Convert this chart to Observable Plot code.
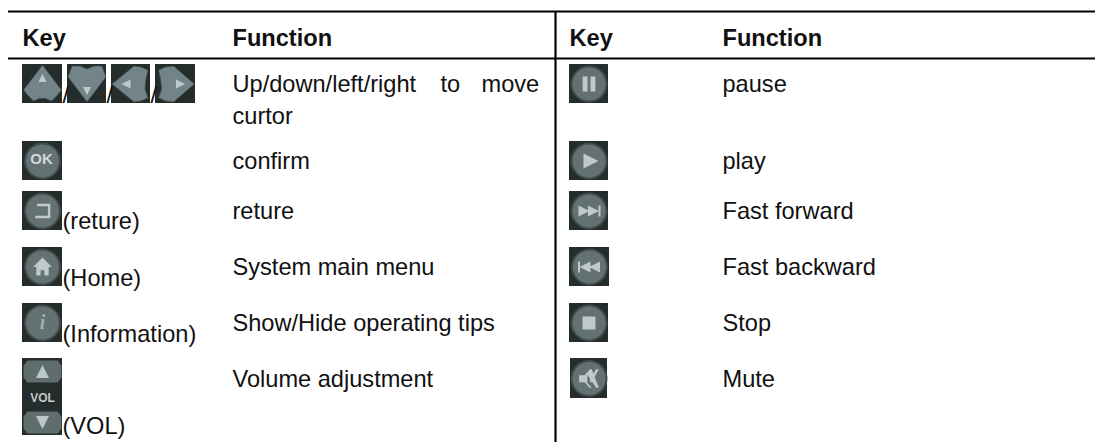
<!DOCTYPE html>
<html>
<head>
<meta charset="utf-8">
<script src="https://cdn.jsdelivr.net/npm/d3@7"></script>
<script src="https://cdn.jsdelivr.net/npm/@observablehq/plot@0.6"></script>
<style>html,body{margin:0;padding:0;background:#fff}svg{display:block}</style>
</head>
<body>
<div id="chart"></div>
<script>
// ---- table content ----
const headers = ["Key", "Function", "Key", "Function"];
const leftKeyLabels = ["(reture)", "(Home)", "(Information)", "(VOL)"];
const leftFunctions = ["curtor", "confirm", "reture", "System main menu", "Show/Hide operating tips", "Volume adjustment"];
const justifiedWords = ["Up/down/left/right", "to", "move"];
const rightFunctions = ["pause", "play", "Fast forward", "Fast backward", "Stop", "Mute"];
const leftIcons = ["up", "down", "left", "right", "ok", "return", "home", "info", "vol"];
const rightIcons = ["pause", "play", "forward", "backward", "stop", "mute"];

// ---- page layout (pixel grid of the table), kept apart from the content ----
const W = 1095, H = 442, FS = 23.6;
const headerX = [22, 232, 569, 722], headerBase = 45;
const leftFnBase = [123, 168, 218, 274, 330, 386];
const rightFnBase = [91, 168, 218, 274, 330, 386];
const leftLabelBase = [228, 285, 341, 433];
const wordX = [232, 440, 481];
const leftBoxes = [[22,64,62,103],[67,64,106,103],[111,64,150,103],[155,64,195,103],
  [22,141,62,180],[22,191,62,230],[22,247,62,286],[22,303,62,342],[22,358,62,435]];
const rightBoxes = [[569,64,608,103],[569,141,608,180],[569,191,608,230],[569,247,609,286],[569,303,608,342],[570,358,607,398]];
const slashX = [62, 106, 150];

// ---- icon glyphs as custom dot symbols (unit coordinates scaled by r) ----
const poly = pts => ({draw(ctx, size) {
  const r = Math.sqrt(size / Math.PI);
  pts.forEach(([x, y], i) => i ? ctx.lineTo(x * r, y * r) : ctx.moveTo(x * r, y * r));
  ctx.closePath();
}});
const polys = list => ({draw(ctx, size) { list.forEach(p => poly(p).draw(ctx, size)); }});
const tri = (cx, cy, dir, s) => dir === "up" ? [[cx, cy - s], [cx + s, cy + s], [cx - s, cy + s]]
  : dir === "down" ? [[cx, cy + s], [cx + s, cy - s], [cx - s, cy - s]]
  : dir === "left" ? [[cx - s, cy], [cx + s, cy - s], [cx + s, cy + s]]
  : [[cx + s, cy], [cx - s, cy - s], [cx - s, cy + s]];
const rectP = (a, b, c, d) => [[a, b], [c, b], [c, d], [a, d]];
const padUp = poly([[0,-.95],[.95,.3],[.75,.55],[.45,.85],[.15,.72],[-.15,.72],[-.45,.85],[-.75,.55],[-.95,.3]]);
const padDown = poly([[-.75,-.9],[-.35,-.9],[0,-.75],[.35,-.9],[.75,-.9],[.95,-.35],[0,.9],[-.95,-.35]]);
const padLeft = poly([[-.95,0],[.15,-.9],[.5,-.85],[.85,-.7],[.75,-.25],[.7,.25],[.85,.7],[.5,.85],[.15,.9]]);
const padRight = poly([[.95,0],[-.1,-.9],[-.5,-.85],[-.85,-.7],[-.75,-.25],[-.7,.25],[-.85,.7],[-.5,.85],[-.1,.9]]);
const pill = poly([[-.8,-.58],[.8,-.58],[1,-.3],[1,.3],[.8,.58],[-.8,.58],[-1,.3],[-1,-.3]]);
const glyphs = {
  up: {s: tri(0, 0, "up", 1), r: 4, dy: -6},
  down: {s: tri(0, 0, "down", 1), r: 4, dy: 7},
  left: {s: tri(0, 0, "left", 1), r: 4.5, dx: -5},
  right: {s: tri(0, 0, "right", 1), r: 4.5, dx: 5},
  play: {s: tri(0, 0, "right", 1), r: 7.5, dx: 2},
  pause: {s: [rectP(-.85,-1,-.2,1), rectP(.2,-1,.85,1)], r: 7.5},
  stop: {s: rectP(-1,-1,1,1), r: 6.5},
  forward: {s: [tri(-.5,0,"right",.55), tri(.45,0,"right",.55), rectP(.95,-.55,1.15,.55)], r: 10},
  backward: {s: [tri(.5,0,"left",.55), tri(-.45,0,"left",.55), rectP(-1.15,-.55,-.95,.55)], r: 10},
  home: {s: [[[0,-1],[1,0],[.65,0],[.65,.9],[.2,.9],[.2,.35],[-.2,.35],[-.2,.9],[-.65,.9],[-.65,0],[-1,0]]], r: 9.5},
  ret: {s: [[[-.6,.4],[.45,.4],[.45,-.4],[-.45,-.4],[-.45,-.6],[.65,-.6],[.65,.6],[-.6,.6]]], r: 12},
  mute: {s: [rectP(-.9,-.3,-.4,.35), [[-.4,-.3],[.1,-.85],[.25,-.85],[.9,.85],[.65,.85],[-.15,-.35],[-.15,.4],[.25,.85],[.05,.85],[-.4,.35]], [[.65,-.85],[.9,-.85],[.2,.4],[.05,.15]]], r: 11}
};

// ---- derived tables for marks ----
const boxRows = [...leftIcons.map((icon, i) => ({icon, b: leftBoxes[i]})), ...rightIcons.map((icon, i) => ({icon, b: rightBoxes[i]}))]
  .map(d => ({icon: d.icon, x1: d.b[0], y1: d.b[1], x2: d.b[2], y2: d.b[3], cx: (d.b[0] + d.b[2]) / 2, cy: (d.b[1] + d.b[3]) / 2}));
const pads = {up: padUp, down: padDown, left: padLeft, right: padRight};
const padRows = boxRows.filter(d => pads[d.icon]);
const roundRows = boxRows.filter(d => !pads[d.icon] && d.icon !== "vol");
const volRow = boxRows.find(d => d.icon === "vol");
const glyphName = {up:"up",down:"down",left:"left",right:"right",play:"play",pause:"pause",stop:"stop",forward:"forward",backward:"backward",home:"home",return:"ret",mute:"mute"};
const glyphRows = boxRows.filter(d => glyphName[d.icon]).map(d => {
  const g = glyphs[glyphName[d.icon]];
  const list = Array.isArray(g.s[0][0]) ? g.s : [g.s];
  return {x: d.cx + (g.dx || 0), y: d.cy + (g.dy || 0), r: g.r, sym: polys(list)};
});

const base = {fontFamily: "Liberation Sans, Arial, sans-serif", fontSize: FS, fill: "#111", textAnchor: "start", lineAnchor: "bottom"};
const bodyTexts = [
  ...leftFunctions.map((t, i) => ({t, x: headerX[1], y: leftFnBase[i]})),
  ...rightFunctions.map((t, i) => ({t, x: headerX[3], y: rightFnBase[i]})),
  ...justifiedWords.map((t, i) => ({t, x: wordX[i], y: 91})),
  ...leftKeyLabels.map((t, i) => ({t, x: 62, y: leftLabelBase[i]})),
  ...slashX.map(x => ({t: "/", x, y: 102}))
];

const chart = Plot.plot({
  width: W, height: H, margin: 0,
  x: {domain: [0, W], range: [0, W], axis: null},
  y: {domain: [0, H], range: [0, H], axis: null},
  marks: [
    // rules of the table
    Plot.ruleY([11, 58], {x1: 8, x2: W, stroke: "#000", strokeWidth: 2.2}),
    Plot.ruleX([555], {y1: 11, y2: H, stroke: "#000", strokeWidth: 2.2}),
    // key icons: dark backdrop
    Plot.rect(boxRows, {x1: "x1", x2: "x2", y1: "y1", y2: "y2", fill: "#252c2c"}),
    // direction pads
    Plot.dot(padRows, {x: "cx", y: "cy", r: 20, fill: "#738488", stroke: "#3e4a4c", strokeWidth: 0.8, symbol: d => pads[d.icon]}),
    // round keys
    Plot.dot(roundRows, {x: "cx", y: "cy", r: 18.5, fill: "#414b4c"}),
    Plot.dot(roundRows, {x: "cx", y: "cy", r: 16.5, fill: "#647172"}),
    // volume rocker
    Plot.dot([volRow], {x: "cx", y: () => 371, r: 19, fill: "#5f6d6d", symbol: pill}),
    Plot.dot([volRow], {x: "cx", y: () => 422, r: 19, fill: "#5f6d6d", symbol: pill}),
    Plot.dot([volRow], {x: "cx", y: () => 371, r: 6.5, fill: "#bcc8c8", symbol: poly(tri(0, 0, "up", 1))}),
    Plot.dot([volRow], {x: "cx", y: () => 422, r: 6.5, fill: "#bcc8c8", symbol: poly(tri(0, 0, "down", 1))}),
    Plot.text(["VOL"], {x: volRow.cx, y: volRow.cy + 1, text: d => d, fill: "#c0caca", fontSize: 12, fontWeight: "bold", fontFamily: "Liberation Sans, Arial, sans-serif"}),
    // glyphs
    ...glyphRows.map(g => Plot.dot([g], {x: "x", y: "y", r: g.r, fill: "#bfc9ca", symbol: g.sym})),
    Plot.text(boxRows.filter(d => d.icon === "ok"), {x: d => d.cx - 1, y: d => d.cy - 2, text: () => "OK", fill: "#cfd8d8", fontSize: 15, fontWeight: "bold", fontFamily: "Liberation Sans, Arial, sans-serif"}),
    Plot.text(boxRows.filter(d => d.icon === "info"), {x: "cx", y: "cy", text: () => "i", fill: "#a3adae", fontSize: 20, fontWeight: "bold", fontStyle: "italic", fontFamily: "Liberation Serif, serif"}),
    // header row
    Plot.text(headers.map((t, i) => ({t, x: headerX[i]})), {...base, x: "x", y: () => headerBase, text: "t", fontWeight: "bold"}),
    // body text
    Plot.text(bodyTexts, {...base, x: "x", y: "y", text: "t"})
  ]
});
document.getElementById("chart").append(chart);
</script>
</body>
</html>
